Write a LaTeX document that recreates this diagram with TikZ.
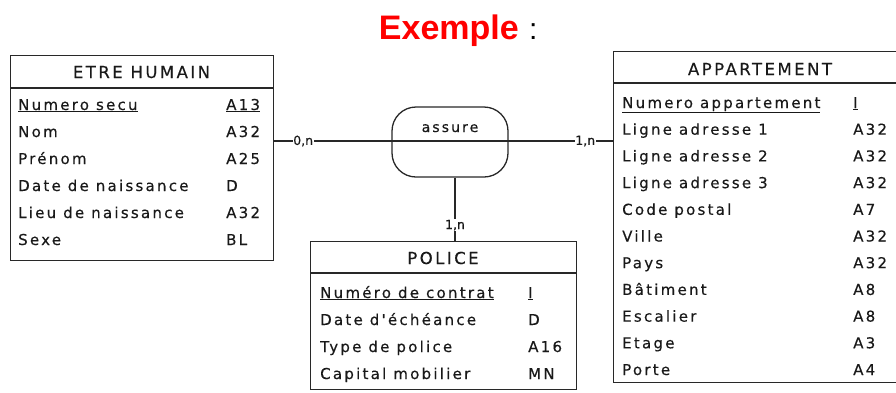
\documentclass[tikz,border=0pt]{standalone}
\usepackage{fontspec}
\setmainfont{Liberation Sans}
\newfontfamily\erfont[LetterSpace=15,FakeBold=0.4]{DejaVu Sans}
\newfontfamily\cardfont[FakeBold=0.4]{DejaVu Sans}
\definecolor{boxline}{RGB}{40,40,40}
\definecolor{titlered}{RGB}{255,0,0}
\begin{document}
\begin{tikzpicture}[x=1pt,y=-1pt,
  entity/.style={draw=boxline, line width=1.4pt, anchor=north west, inner sep=0pt},
  rel/.style={draw=boxline, line width=1.3pt, rounded corners=24pt, minimum width=116pt, minimum height=70pt, inner sep=0pt},
  attr/.style={anchor=base west, inner sep=0pt, font=\erfont\fontsize{15}{15}\selectfont, text=black!90},
  head/.style={anchor=base, inner sep=0pt, font=\erfont\fontsize{16.5}{15}\selectfont, text=black!90},
  card/.style={fill=white, inner sep=0.5pt, font=\cardfont\fontsize{12.5}{12}\selectfont, text=black!90},
  link/.style={draw=boxline, line width=1.3pt}]
\useasboundingbox (0,0) rectangle (896,392);
% title
\node[anchor=base east, inner sep=0pt, font=\bfseries\fontsize{34}{34}\selectfont, text=titlered] (title) at (519,39) {Exemple};
\node[anchor=base west, inner sep=0pt, font=\fontsize{30}{30}\selectfont] (colon) at (529,39) {:};
% ETRE HUMAIN
\node[entity, minimum width=263pt, minimum height=205pt] (etre) at (10,55) {};
\draw[link] (10,88) -- (273,88);
\node[head] (etreh) at (141.5,78) {ETRE HUMAIN};
\node[attr] (e1) at (18,110) {\underline{Numero secu}};
\node[attr] (e2) at (18,137) {Nom};
\node[attr] (e3) at (18,164) {Prénom};
\node[attr] (e4) at (18,191) {Date de naissance};
\node[attr] (e5) at (18,218) {Lieu de naissance};
\node[attr] (e6) at (18,245) {Sexe};
\node[attr] (t1) at (226,110) {\underline{A13}};
\node[attr] (t2) at (226,137) {A32};
\node[attr] (t3) at (226,164) {A25};
\node[attr] (t4) at (226,191) {D};
\node[attr] (t5) at (226,218) {A32};
\node[attr] (t6) at (226,245) {BL};
% POLICE
\node[entity, minimum width=266pt, minimum height=148pt] (police) at (310,241) {};
\draw[link] (310,273) -- (576,273);
\node[head] (policeh) at (443,264) {POLICE};
\node[attr] (p1) at (320,298) {\underline{Numéro de contrat}};
\node[attr] (p2) at (320,325) {Date d'échéance};
\node[attr] (p3) at (320,352) {Type de police};
\node[attr] (p4) at (320,379) {Capital mobilier};
\node[attr] (q1) at (528,298) {\underline{I}};
\node[attr] (q2) at (528,325) {D};
\node[attr] (q3) at (528,352) {A16};
\node[attr] (q4) at (528,379) {MN};
% APPARTEMENT
\node[entity, minimum width=294pt, minimum height=331pt] (appart) at (613,51) {};
\draw[link] (613,83) -- (907,83);
\node[head] (appah) at (760,75) {APPARTEMENT};
\node[attr] (a1) at (622,108) {\underline{Numero appartement}};
\node[attr] (a2) at (622,134.7) {Ligne adresse 1};
\node[attr] (a3) at (622,161.4) {Ligne adresse 2};
\node[attr] (a4) at (622,188.1) {Ligne adresse 3};
\node[attr] (a5) at (622,214.8) {Code postal};
\node[attr] (a6) at (622,241.5) {Ville};
\node[attr] (a7) at (622,268.2) {Pays};
\node[attr] (a8) at (622,294.9) {Bâtiment};
\node[attr] (a9) at (622,321.6) {Escalier};
\node[attr] (a10) at (622,348.3) {Etage};
\node[attr] (a11) at (622,375) {Porte};
\node[attr] (b1) at (853,108) {\underline{I}};
\node[attr] (b2) at (853,134.7) {A32};
\node[attr] (b3) at (853,161.4) {A32};
\node[attr] (b4) at (853,188.1) {A32};
\node[attr] (b5) at (853,214.8) {A7};
\node[attr] (b6) at (853,241.5) {A32};
\node[attr] (b7) at (853,268.2) {A32};
\node[attr] (b8) at (853,294.9) {A8};
\node[attr] (b9) at (853,321.6) {A8};
\node[attr] (b10) at (853,348.3) {A3};
\node[attr] (b11) at (853,375) {A4};
% relation
\node[rel] (assure) at (450,142) {};
\node[attr, anchor=base, font=\erfont\fontsize{14}{14}\selectfont] (assuret) at (450,132) {assure};
\coordinate (hl) at (etre.east |- 0,141);
\coordinate (hr) at (appart.west |- 0,141);
\draw[link] (hl) -- node[card, pos=0.085] (c1) {0,n} node[card, pos=0.918] (c2) {1,n} (hr);
\coordinate (vs) at ([xshift=5pt]assure.south);
\draw[link] (vs) -- node[card, pos=0.75] (c3) {1,n} (vs |- police.north);
\end{tikzpicture}
\end{document}
